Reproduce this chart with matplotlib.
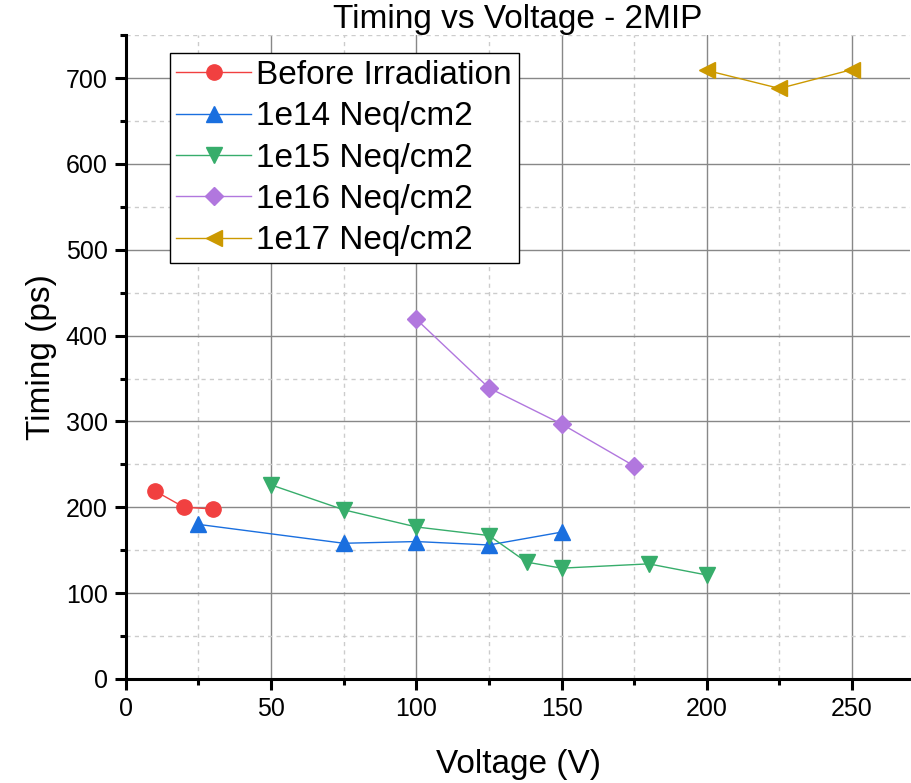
import matplotlib
matplotlib.use("Agg")
import matplotlib.pyplot as plt
from matplotlib.ticker import MultipleLocator

plt.rcParams['font.family'] = ['Liberation Sans', 'DejaVu Sans']

# data
before_v = [10, 20, 30]
before_t = [219, 200, 198]

e14_v = [25, 75, 100, 125, 150]
e14_t = [180, 158, 160, 156, 171]

e15_v = [50, 75, 100, 125, 138, 150, 180, 200]
e15_t = [226, 197, 177, 167, 136, 129, 134, 121]

e16_v = [100, 125, 150, 175]
e16_t = [419, 339, 297, 248]

e17_v = [200, 225, 250]
e17_t = [709, 688, 710]

labels = ["Before Irradiation", "1e14 Neq/cm2", "1e15 Neq/cm2",
          "1e16 Neq/cm2", "1e17 Neq/cm2"]
colors = ["#F14040", "#1A6FDF", "#37AD6B", "#B177DE", "#CC9900"]
markers = ["o", "^", "v", "D", "<"]
msizes = [11, 12, 12, 9.5, 12]

fig = plt.figure(figsize=(9.12, 7.83), dpi=100)
ax = fig.add_axes([0.138, 0.133, 0.860, 0.822])

series = [(before_v, before_t), (e14_v, e14_t), (e15_v, e15_t),
          (e16_v, e16_t), (e17_v, e17_t)]
for (v, t), lab, c, m, ms in zip(series, labels, colors, markers, msizes):
    ax.plot(v, t, color=c, marker=m, markersize=ms, linewidth=1,
            label=lab, zorder=3)

ax.set_xlim(0, 270)
ax.set_ylim(0, 750)
ax.xaxis.set_major_locator(MultipleLocator(50))
ax.xaxis.set_minor_locator(MultipleLocator(25))
ax.yaxis.set_major_locator(MultipleLocator(100))
ax.yaxis.set_minor_locator(MultipleLocator(50))

ax.grid(which="major", color="#888888", linewidth=1, linestyle="-")
ax.grid(which="minor", color="#cccccc", linewidth=1, linestyle=(0, (3, 3)))
ax.set_axisbelow(True)

for s in ["top", "right"]:
    ax.spines[s].set_visible(False)
for s in ["left", "bottom"]:
    ax.spines[s].set_linewidth(2.2)

ax.tick_params(which="major", direction="out", length=8, width=2.2,
               labelsize=18, pad=5)
ax.tick_params(which="minor", direction="out", length=4.5, width=2.2)

ax.set_xlabel("Voltage (V)", fontsize=24, labelpad=20)
ax.set_ylabel("Timing (ps)", fontsize=24, labelpad=6)
ax.set_title("Timing vs Voltage - 2MIP", fontsize=24, pad=4)

leg = ax.legend(loc="upper left", bbox_to_anchor=(0.056, 0.972),
                borderaxespad=0, fontsize=24, fancybox=False,
                framealpha=1, edgecolor="black", handlelength=2.25,
                handletextpad=0.15, labelspacing=0.31, borderpad=0.2)
leg.get_frame().set_linewidth(1)

fig.savefig("out.png", dpi=100)
